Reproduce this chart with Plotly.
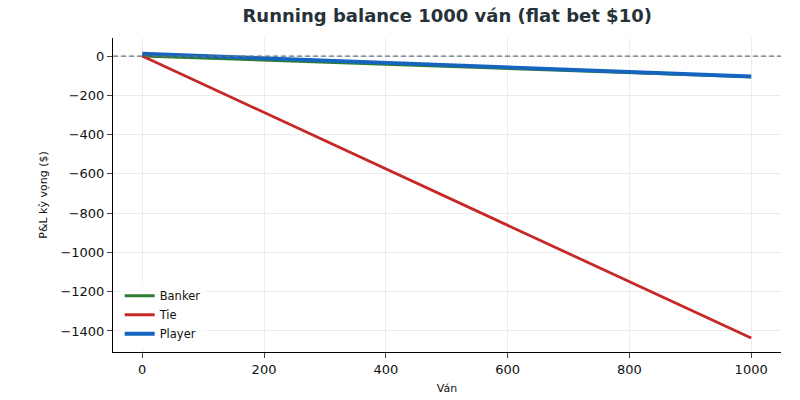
import plotly.graph_objects as go

hands = [0, 1000]
banker = [0, -106]
tie = [0, -1436]
player = [12, -104]
x_ticks = [0, 200, 400, 600, 800, 1000]
y_ticks = [0, -200, -400, -600, -800, -1000, -1200, -1400]

fig = go.Figure()
fig.add_hline(y=0, line=dict(color="#5f7382", width=1.2, dash="5px,3px"))
fig.add_trace(go.Scatter(x=hands, y=banker, mode="lines", name="Banker",
                         line=dict(color="#2e7d32", width=2.8)))
fig.add_trace(go.Scatter(x=hands, y=tie, mode="lines", name="Tie",
                         line=dict(color="#c62828", width=2.8)))
fig.add_trace(go.Scatter(x=hands, y=player, mode="lines", name="Player",
                         line=dict(color="#1565c0", width=3.8)))

fig.update_layout(
    width=800, height=400,
    margin=dict(l=113, r=19, t=38, b=48),
    paper_bgcolor="white", plot_bgcolor="white",
    font=dict(family="DejaVu Sans", size=12, color="#111"),
    title=dict(text="<b>Running balance 1000 ván (flat bet $10)</b>",
               x=0.559, xanchor="center", y=0.96, yanchor="middle",
               font=dict(size=18, color="#263238")),
    legend=dict(x=0.01, y=0.012, xanchor="left", yanchor="bottom",
                bgcolor="rgba(255,255,255,0.8)", font=dict(size=11.5),
                itemwidth=30),
    showlegend=True,
)
fig.update_xaxes(range=[-48, 1049], tickvals=x_ticks, showgrid=True,
                 gridcolor="#ebebeb", showline=True, linecolor="black",
                 ticks="outside", ticklen=5, zeroline=False, automargin=False,
                 tickfont=dict(size=13),
                 title=dict(text="Ván", font=dict(size=11), standoff=8))
fig.update_yaxes(range=[-1507, 92], tickvals=y_ticks,
                 ticktext=[str(v).replace("-", "\u2212") for v in y_ticks],
                 showgrid=True, gridcolor="#ebebeb", showline=True, automargin=False,
                 linecolor="black", ticks="outside", ticklen=5, zeroline=False,
                 tickfont=dict(size=13),
                 title=dict(text="P&L kỳ vọng ($)", font=dict(size=11), standoff=10))

fig.write_html("out.html")
